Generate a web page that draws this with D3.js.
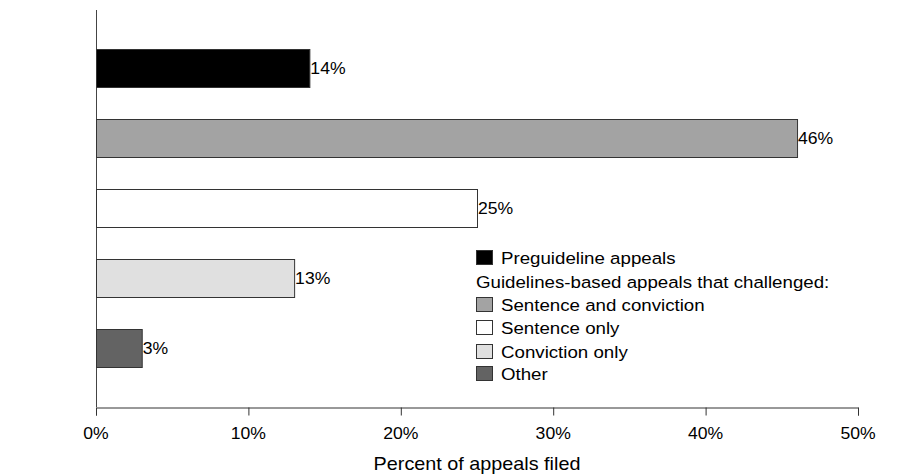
<!DOCTYPE html>
<html>
<head>
<meta charset="utf-8">
<script src="https://cdn.jsdelivr.net/npm/d3@7"></script>
<style>
  html, body { margin: 0; padding: 0; background: #fff; }
  svg { display: block; font-family: "Liberation Sans", Arial, sans-serif; }
</style>
</head>
<body>
<svg id="chart" width="916" height="474"></svg>
<script>
const categories = ["Preguideline appeals", "Sentence and conviction", "Sentence only", "Conviction only", "Other"];
const values = [14, 46, 25, 13, 3];
const colors = ["#000000", "#a3a3a3", "#ffffff", "#e0e0e0", "#636363"];
const xTicks = [0, 10, 20, 30, 40, 50];
const legendHeader = "Guidelines-based appeals that challenged:";
const xTitle = "Percent of appeals filed";

const SX = 1.1; // horizontal stretch of the reference typeface
const svg = d3.select("#chart");
const x = d3.scaleLinear().domain([0, 50]).range([96, 858]);
const y = d3.scaleBand().domain(categories).range([33, 383]).paddingInner(0.455).paddingOuter(0.227);

function stext(g, px, py, str, size, anchor) {
  return g.append("text")
    .attr("transform", `translate(${px},${py}) scale(${SX},1)`)
    .attr("text-anchor", anchor || "start")
    .attr("font-size", size).attr("fill", "#000").text(str);
}

// y axis line
svg.append("line").attr("x1", 96.5).attr("x2", 96.5).attr("y1", 10).attr("y2", 407)
  .attr("stroke", "#444").attr("stroke-width", 1);

// bars
svg.selectAll("rect.bar").data(categories).enter().append("rect")
  .attr("class", "bar")
  .attr("x", x(0) + 0.5)
  .attr("y", d => Math.round(y(d)) + 0.5)
  .attr("width", (d, i) => x(values[i]) - x(0))
  .attr("height", Math.round(y.bandwidth()))
  .attr("fill", (d, i) => colors[i])
  .attr("stroke", "#333").attr("stroke-width", 1);

// value labels
categories.forEach((c, i) => {
  stext(svg, x(values[i]) + 1, y(c) + y.bandwidth() / 2 + 6, values[i] + "%", 16);
});

// x axis
const xAxis = d3.axisBottom(x).tickValues(xTicks).tickFormat("").tickSize(8);
const gx = svg.append("g").attr("transform", "translate(0,407.5)").call(xAxis);
gx.select(".domain").attr("stroke", "#333");
gx.selectAll(".tick line").attr("stroke", "#333");
xTicks.forEach(t => stext(svg, x(t), 439, t + "%", 16, "middle"));

stext(svg, 477, 470, xTitle, 18, "middle");

// legend
const lg = svg.append("g");
const rowsY = [258, 305, 328, 352, 374];
categories.forEach((c, i) => {
  lg.append("rect").attr("x", 476.5).attr("y", rowsY[i] - 7.5).attr("width", 16).attr("height", 14)
    .attr("fill", colors[i]).attr("stroke", "#333");
  stext(lg, 501, rowsY[i] + 6, c, 17);
});
stext(lg, 476, 282 + 6, legendHeader, 17);
</script>
</body>
</html>
